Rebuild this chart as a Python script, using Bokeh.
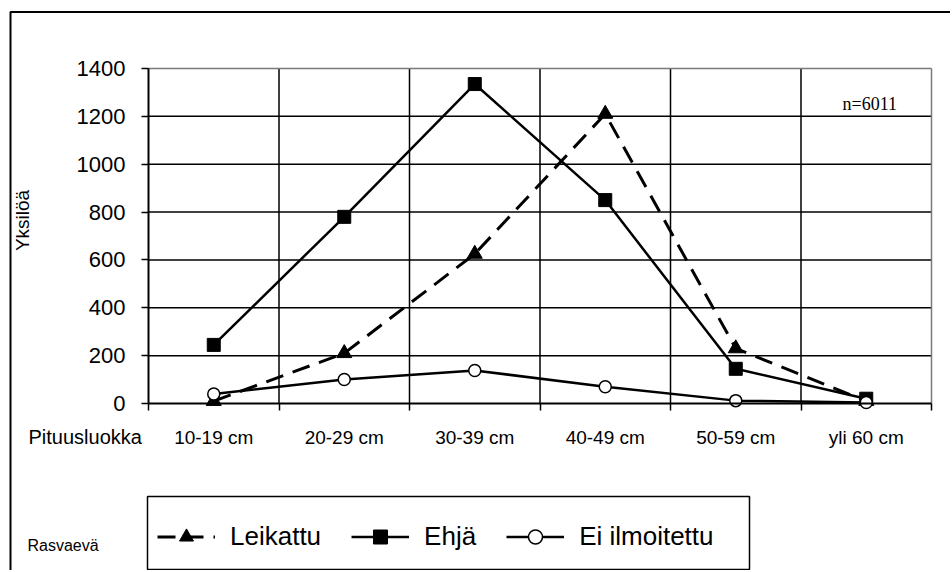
import math
from bokeh.plotting import figure
from bokeh.models import Range1d, FixedTicker, Legend, LegendItem, Label, BoxAnnotation
from bokeh.embed import file_html
from bokeh.resources import INLINE

categories = ["10-19 cm", "20-29 cm", "30-39 cm", "40-49 cm", "50-59 cm", "yli 60 cm"]
leikattu = [10, 210, 625, 1210, 230, 10]
ehja = [245, 780, 1335, 850, 145, 20]
ei_ilmoitettu = [40, 100, 138, 70, 12, 4]
y_ticks = [0, 200, 400, 600, 800, 1000, 1200, 1400]

n = len(categories)
x = [i + 0.5 for i in range(n)]
bounds = list(range(n + 1))
ymax = y_ticks[-1]

# canvas size and the plot area inside it (pixels from the canvas's top-left)
W, H = 950, 570
AREA_L, AREA_R, AREA_T, AREA_B = 148, 931, 68, 403
xs = (AREA_R - AREA_L) / n
ys = (AREA_B - AREA_T) / ymax


def dx(px):
    return (px - AREA_L) / xs


def dy(py):
    return (AREA_B - py) / ys


SANS = "Liberation Sans"

p = figure(width=W, height=H, output_backend="svg", toolbar_location=None,
           x_range=Range1d(dx(0), dx(W)), y_range=Range1d(dy(H), dy(0)))
p.title.visible = False
p.min_border = 0
p.background_fill_color = "white"
p.border_fill_color = "white"
p.outline_line_color = None
p.xgrid.visible = False
p.ygrid.visible = False

# grid lines of the plot area
inner_x = bounds[1:-1]
inner_y = y_ticks[1:-1]
p.segment(x0=inner_x, y0=[0] * len(inner_x), x1=inner_x, y1=[ymax] * len(inner_x),
          line_color="black", line_width=1.5)
p.segment(x0=[0] * len(inner_y), y0=inner_y, x1=[n] * len(inner_y), y1=inner_y,
          line_color="black", line_width=1.5)
p.segment(x0=[0, n], y0=[ymax, 0], x1=[n, n], y1=[ymax, ymax],
          line_color="#7a7a7a", line_width=1.5)

xa = p.xaxis[0]
xa.fixed_location = 0
xa.bounds = (0, n)
xa.ticker = FixedTicker(ticks=x, minor_ticks=bounds)
xa.major_label_overrides = {xi: c for xi, c in zip(x, categories)}
xa.major_tick_out = 0
xa.major_tick_in = 0
xa.minor_tick_out = 7
xa.minor_tick_in = 0
xa.minor_tick_line_color = "black"
xa.minor_tick_line_width = 1.5
xa.major_label_text_font = SANS
xa.major_label_text_font_size = "19px"
xa.major_label_standoff = 16

ya = p.yaxis[0]
ya.fixed_location = 0
ya.bounds = (0, ymax)
ya.ticker = FixedTicker(ticks=y_ticks)
ya.major_tick_out = 7
ya.major_tick_in = 0
ya.minor_tick_out = 0
ya.major_tick_line_color = "black"
ya.major_tick_line_width = 1.5
ya.major_label_text_font = SANS
ya.major_label_text_font_size = "22px"
ya.major_label_standoff = 16

for a in (xa, ya):
    a.axis_line_color = "black"
    a.axis_line_width = 2
    a.major_label_text_color = "black"

l1 = p.line(x, leikattu, line_color="black", line_width=3, line_dash="18 10")
s1 = p.scatter(x, leikattu, marker="triangle", size=15, fill_color="black", line_color="black")
l2 = p.line(x, ehja, line_color="black", line_width=2.5)
s2 = p.scatter(x, ehja, marker="square", size=13, fill_color="black", line_color="black")
l3 = p.line(x, ei_ilmoitettu, line_color="black", line_width=2.5)
s3 = p.scatter(x, ei_ilmoitettu, marker="circle", size=12, fill_color="white",
               line_color="black", line_width=1.5)

# frame of the legend
p.add_layout(BoxAnnotation(left=dx(147), right=dx(749), top=dy(496), bottom=dy(569),
                           fill_alpha=0, line_color="black", line_alpha=1.0, line_width=1.5))

legend = Legend(items=[
    LegendItem(label="Leikattu", renderers=[l1, s1]),
    LegendItem(label="Ehjä", renderers=[l2, s2]),
    LegendItem(label="Ei ilmoitettu", renderers=[l3, s3]),
], orientation="horizontal", location=(157, H - 557))
legend.padding = 10
legend.spacing = 30
legend.label_standoff = 15
legend.glyph_width = 58
legend.glyph_height = 35
legend.label_height = 41
legend.label_text_font = SANS
legend.label_text_font_size = "26px"
legend.label_text_color = "black"
legend.border_line_color = None
legend.background_fill_alpha = 0.0
legend.margin = 0
p.add_layout(legend)

p.add_layout(Label(x=dx(22), y=dy(220), text="Yksilöä", angle=math.pi / 2,
                   text_align="center", text_baseline="middle",
                   text_font=SANS, text_font_size="19px", text_color="black"))
p.add_layout(Label(x=dx(28), y=dy(447), text="Pituusluokka",
                   text_font=SANS, text_font_size="20px", text_color="black"))
p.add_layout(Label(x=dx(27), y=dy(553), text="Rasvaevä",
                   text_font=SANS, text_font_size="16px", text_color="black"))
p.add_layout(Label(x=dx(842), y=dy(113), text="n=6011",
                   text_font="Liberation Serif", text_font_size="18px", text_color="black"))

# outer frame of the whole figure
p.add_layout(BoxAnnotation(left=dx(10), right=dx(5000), top=dy(11.5), bottom=dy(5000),
                           fill_alpha=0, line_color="black", line_alpha=1.0, line_width=2))

open("out.html", "w").write(file_html(p, INLINE))
